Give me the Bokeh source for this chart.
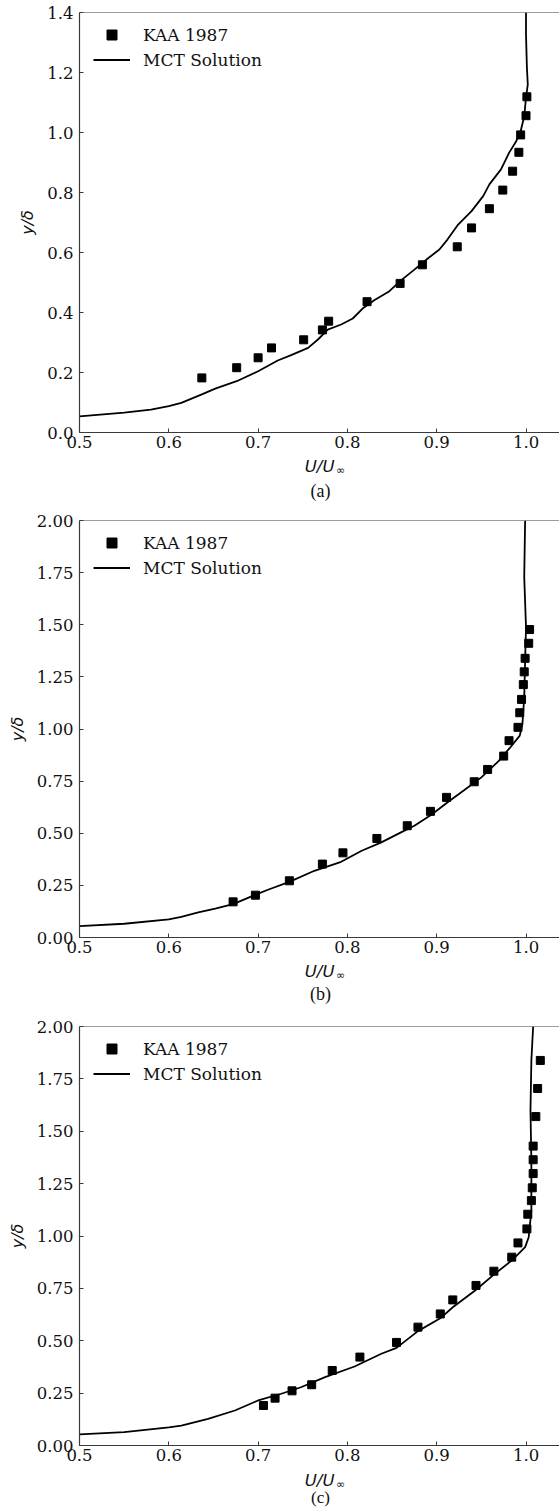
from bokeh.plotting import figure
from bokeh.layouts import column
from bokeh.models import Label, Span, FixedTicker, NumeralTickFormatter, Legend, LegendItem
from bokeh.embed import file_html
from bokeh.resources import INLINE

# ---------------- data ----------------
x_ticks = [0.5, 0.6, 0.7, 0.8, 0.9, 1.0]

a_y_ticks = [0.0, 0.2, 0.4, 0.6, 0.8, 1.0, 1.2, 1.4]
a_kaa_u = [0.637, 0.676, 0.700, 0.715, 0.751, 0.772, 0.779, 0.822, 0.859, 0.884,
           0.923, 0.939, 0.959, 0.974, 0.985, 0.992, 0.994, 1.000, 1.001]
a_kaa_y = [0.182, 0.216, 0.249, 0.282, 0.309, 0.342, 0.371, 0.436, 0.497, 0.559,
           0.619, 0.682, 0.746, 0.808, 0.871, 0.934, 0.992, 1.056, 1.119]
a_mct_u = [0.500, 0.550, 0.580, 0.600, 0.614, 0.637, 0.652, 0.676, 0.700, 0.722,
           0.737, 0.756, 0.767, 0.778, 0.793, 0.806, 0.817, 0.830, 0.847, 0.860,
           0.875, 0.890, 0.903, 0.912, 0.924, 0.939, 0.952, 0.959, 0.972, 0.981,
           0.989, 0.994, 0.998, 1.000, 1.002, 1.001, 1.000, 1.000]
a_mct_y = [0.054, 0.066, 0.076, 0.088, 0.099, 0.127, 0.146, 0.171, 0.204, 0.240,
           0.258, 0.282, 0.310, 0.343, 0.360, 0.380, 0.413, 0.441, 0.471, 0.507,
           0.543, 0.580, 0.610, 0.643, 0.693, 0.738, 0.788, 0.827, 0.877, 0.932,
           0.971, 1.004, 1.054, 1.116, 1.160, 1.216, 1.327, 1.400]

bc_y_ticks = [0.0, 0.25, 0.5, 0.75, 1.0, 1.25, 1.5, 1.75, 2.0]
b_kaa_u = [0.672, 0.697, 0.735, 0.772, 0.795, 0.833, 0.867, 0.893, 0.911, 0.942,
           0.957, 0.975, 0.981, 0.991, 0.993, 0.995, 0.997, 0.998, 0.999, 1.003, 1.004]
b_kaa_y = [0.171, 0.203, 0.272, 0.352, 0.406, 0.475, 0.536, 0.605, 0.672, 0.747,
           0.806, 0.870, 0.944, 1.008, 1.078, 1.142, 1.213, 1.274, 1.339, 1.411, 1.477]
b_mct_u = [0.500, 0.550, 0.600, 0.614, 0.633, 0.652, 0.672, 0.696, 0.711, 0.735,
           0.763, 0.793, 0.816, 0.838, 0.860, 0.875, 0.894, 0.913, 0.931, 0.950,
           0.969, 0.983, 0.993, 0.996, 0.998, 0.999, 1.000, 0.998, 0.999]
b_mct_y = [0.055, 0.066, 0.087, 0.099, 0.120, 0.139, 0.160, 0.203, 0.229, 0.267,
           0.320, 0.363, 0.416, 0.456, 0.504, 0.536, 0.589, 0.651, 0.707, 0.768,
           0.845, 0.915, 0.968, 1.024, 1.152, 1.328, 1.488, 1.728, 2.000]

c_kaa_u = [0.706, 0.719, 0.738, 0.760, 0.783, 0.814, 0.855, 0.879, 0.904, 0.918,
           0.944, 0.964, 0.984, 0.991, 1.001, 1.002, 1.006, 1.007, 1.008, 1.008,
           1.008, 1.011, 1.013, 1.016]
c_kaa_y = [0.191, 0.226, 0.261, 0.290, 0.358, 0.422, 0.492, 0.565, 0.628, 0.695,
           0.764, 0.832, 0.899, 0.967, 1.034, 1.104, 1.169, 1.230, 1.298, 1.364,
           1.429, 1.570, 1.704, 1.838]
c_mct_u = [0.500, 0.550, 0.600, 0.614, 0.644, 0.674, 0.700, 0.726, 0.748, 0.775,
           0.808, 0.838, 0.855, 0.879, 0.904, 0.918, 0.943, 0.965, 0.984, 0.999,
           1.003, 1.006, 1.006, 1.005, 1.006, 1.008]
c_mct_y = [0.053, 0.064, 0.087, 0.095, 0.127, 0.167, 0.215, 0.247, 0.278, 0.326,
           0.377, 0.438, 0.466, 0.546, 0.607, 0.660, 0.740, 0.819, 0.883, 0.947,
           0.994, 1.122, 1.360, 1.599, 1.838, 2.000]

legend_labels = ["KAA 1987", "MCT Solution"]
captions = ["(a)", "(b)", "(c)"]
x_label_main = "U/U"
x_label_sub = "∞"
y_label = "y/δ"

SPINE = "#3a3a3a"
TXT = "#111111"
SERIF = "DejaVu Serif"
X0, X1 = 0.5, 1.0375
FRAME_W = 480
BOTTOM = 24


def make_panel(kaa_u, kaa_y, mct_u, mct_y, y_max, y_ticks, y_fmt, b_top, frame_h):
    height = b_top + frame_h + BOTTOM
    p = figure(width=559, height=height, x_range=(X0, X1), y_range=(0, y_max),
               output_backend="svg", toolbar_location=None,
               min_border_left=79, min_border_right=0,
               min_border_top=b_top, min_border_bottom=BOTTOM)
    p.outline_line_color = None
    p.xgrid.visible = False
    p.ygrid.visible = False

    for ax in (p.xaxis[0], p.yaxis[0]):
        ax.axis_line_color = SPINE
        ax.axis_line_width = 1.2
        ax.major_tick_line_color = SPINE
        ax.major_tick_in = 4
        ax.major_tick_out = 0
        ax.minor_tick_line_color = None
        ax.major_label_text_font = SERIF
        ax.major_label_text_font_size = "16.5px"
        ax.major_label_text_color = TXT
    p.xaxis.ticker = FixedTicker(ticks=x_ticks)
    p.xaxis.formatter = NumeralTickFormatter(format="0.0")
    p.xaxis.major_label_standoff = 3
    p.yaxis.ticker = FixedTicker(ticks=y_ticks)
    p.yaxis.formatter = NumeralTickFormatter(format=y_fmt)
    p.yaxis.major_label_standoff = 6
    p.yaxis.axis_label = y_label
    p.yaxis.axis_label_text_font = "DejaVu Sans"
    p.yaxis.axis_label_text_font_style = "italic"
    p.yaxis.axis_label_text_font_size = "16px"
    p.yaxis.axis_label_text_color = TXT
    p.yaxis.axis_label_standoff = 7

    p.add_layout(Span(location=y_max, dimension="width", line_color=SPINE, line_width=1.2))

    line_r = p.line(mct_u, mct_y, line_color="black", line_width=1.8)
    sq_r = p.scatter(kaa_u, kaa_y, marker="square", size=8, fill_color="black",
                     line_color="black")

    leg = Legend(items=[LegendItem(label=legend_labels[0], renderers=[sq_r]),
                        LegendItem(label=legend_labels[1], renderers=[line_r])],
                 location=(14, frame_h - 10 - 50))
    leg.border_line_color = None
    leg.background_fill_alpha = 0
    leg.padding = 0
    leg.margin = 0
    leg.spacing = 0
    leg.glyph_width = 37
    leg.glyph_height = 25
    leg.label_height = 25
    leg.label_standoff = 13
    leg.label_text_font = SERIF
    leg.label_text_font_size = "17px"
    leg.label_text_color = TXT
    p.add_layout(leg)
    return p


def make_strip(caption, height, xlab_px, cap_px, cap_size="18px"):
    """Strip under a panel holding the x-axis label and the sub-figure caption.
    Its y range is in pixels measured down from the strip's top."""
    s = figure(width=559, height=height, x_range=(X0, X1), y_range=(height, 0),
               output_backend="svg", toolbar_location=None,
               x_axis_type=None, y_axis_type=None,
               min_border_left=79, min_border_right=0,
               min_border_top=0, min_border_bottom=0)
    s.outline_line_color = None
    s.xgrid.visible = False
    s.ygrid.visible = False
    dx = (X1 - X0) / FRAME_W
    s.add_layout(Label(x=X0 + 255 * dx, y=xlab_px, text=x_label_main,
                       text_align="right", text_baseline="middle",
                       text_font="DejaVu Sans", text_font_style="italic",
                       text_font_size="16.5px", text_color=TXT))
    s.add_layout(Label(x=X0 + 256.5 * dx, y=xlab_px + 4, text=x_label_sub,
                       text_align="left", text_baseline="middle",
                       text_font="DejaVu Sans", text_font_size="11px",
                       text_color=TXT))
    s.add_layout(Label(x=X0 + 241 * dx, y=cap_px, text=caption,
                       text_align="center", text_baseline="middle",
                       text_font="Liberation Serif", text_font_size=cap_size,
                       text_color=TXT))
    return s


# panel (a): frame 12..432 ; strip 456..505
p1 = make_panel(a_kaa_u, a_kaa_y, a_mct_u, a_mct_y, 1.4, a_y_ticks, "0.0", 12, 420)
s1 = make_strip(captions[0], 505 - (12 + 420 + BOTTOM), 34 - BOTTOM, 58 - BOTTOM)
# panel (b): frame 520..937 ; strip 961..1010
p2 = make_panel(b_kaa_u, b_kaa_y, b_mct_u, b_mct_y, 2.0, bc_y_ticks, "0.00", 15, 417)
s2 = make_strip(captions[1], 505 - (15 + 417 + BOTTOM), 34 - BOTTOM, 56 - BOTTOM)
# panel (c): frame 1026..1445 ; strip 1469..1508
p3 = make_panel(c_kaa_u, c_kaa_y, c_mct_u, c_mct_y, 2.0, bc_y_ticks, "0.00", 16, 419)
s3 = make_strip(captions[2], 498 - (16 + 419 + BOTTOM), 35 - BOTTOM, 52 - BOTTOM, "17px")

layout = column(p1, s1, p2, s2, p3, s3, spacing=0)
open("out.html", "w").write(file_html(layout, INLINE))
